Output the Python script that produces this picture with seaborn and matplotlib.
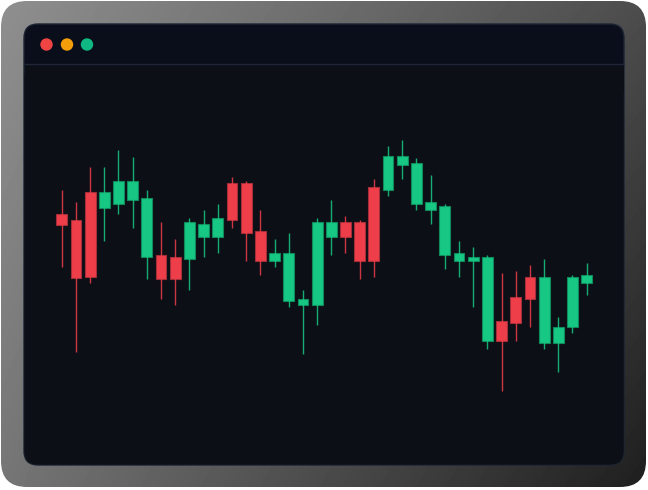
import numpy as np
import pandas as pd
import matplotlib.pyplot as plt
import seaborn as sns
from matplotlib.patches import FancyBboxPatch, Rectangle, Circle

# Candle data
opens = [116.5, 115.1, 122.0, 118.1, 119.1, 120.1, 105.8, 106.3, 105.8, 105.3,
         110.7, 110.7, 124.3, 124.3, 112.2, 104.8, 94.7, 93.7, 93.7, 110.7,
         114.6, 114.6, 123.3, 122.5, 128.7, 119.1, 117.5, 106.3, 104.8, 104.8,
         84.8, 89.8, 95.7, 100.8, 84.3, 84.3, 88.3, 99.3]
highs = [122.5, 119.5, 128.2, 128.2, 132.5, 130.7, 122.5, 114.6, 110.3, 115.6,
         117.5, 119.0, 125.7, 124.8, 117.5, 110.2, 111.7, 97.6, 115.6, 120.0,
         116.1, 115.1, 125.2, 133.5, 135.0, 130.6, 126.2, 119.0, 109.7, 108.2,
         106.3, 101.8, 102.3, 103.8, 105.3, 90.8, 101.3, 104.3]
lows = [103.3, 82.0, 99.3, 109.8, 116.6, 113.1, 100.3, 95.2, 93.7, 97.6,
        105.8, 106.8, 113.1, 104.8, 101.3, 103.3, 93.2, 81.4, 88.8, 106.3,
        106.8, 100.3, 100.8, 121.0, 125.2, 117.5, 114.1, 102.8, 100.8, 93.2,
        82.8, 72.3, 84.8, 88.3, 82.8, 77.0, 86.8, 96.2]
closes = [113.7, 100.4, 100.8, 122.0, 124.7, 124.7, 120.5, 100.3, 100.3, 114.6,
          114.1, 115.6, 115.1, 111.7, 104.8, 106.8, 106.8, 95.2, 114.6, 114.6,
          110.7, 104.8, 104.8, 131.1, 131.1, 129.2, 119.5, 118.5, 106.8, 105.8,
          105.8, 84.8, 89.3, 95.2, 100.8, 88.3, 100.8, 101.3]

UP = "#17c784"
DOWN = "#ee3e4a"
UP_EDGE = "#0f8a5c"
DOWN_EDGE = "#a52f39"

W, H = 648, 490

df = pd.DataFrame({"open": opens, "high": highs, "low": lows, "close": closes})
df["idx"] = np.arange(len(df))
df["up"] = df["close"] >= df["open"]

sns.set_theme(style="dark", rc={"axes.facecolor": "none", "figure.facecolor": "white"})

fig = plt.figure(figsize=(W / 100, H / 100), dpi=100)

# Device frame drawn in pixel coordinates
bg = fig.add_axes([0, 0, 1, 1])
bg.set_xlim(0, W)
bg.set_ylim(H, 0)
bg.axis("off")

outer = FancyBboxPatch((1, 1), 645, 486, boxstyle="round,pad=0,rounding_size=26",
                       facecolor="none", edgecolor="none")
bg.add_patch(outer)
gx = np.linspace(0, 1, 200)
gy = np.linspace(0, 1, 150)
XX, YY = np.meshgrid(gx, gy)
tl, tr, bl, br = 0.56, 0.30, 0.46, 0.12
grad = tl * (1 - XX) * (1 - YY) + tr * XX * (1 - YY) + bl * (1 - XX) * YY + br * XX * YY
im = bg.imshow(grad, cmap="gray", vmin=0, vmax=1, extent=(0, W, H, 0), aspect="auto",
               interpolation="bilinear")
im.set_clip_path(outer)

# Screen
bg.add_patch(FancyBboxPatch((24, 24), 600, 441, boxstyle="round,pad=0,rounding_size=14",
                            facecolor="#0a0e1a", edgecolor="#1c2434", linewidth=1))
bg.add_patch(FancyBboxPatch((24.5, 64), 599, 400.5, boxstyle="round,pad=0,rounding_size=13",
                            facecolor="#0d0f16", edgecolor="none"))
bg.add_patch(Rectangle((24.5, 64), 599, 30, facecolor="#0d0f16", edgecolor="none"))
bg.plot([24.5, 623.5], [63.8, 63.8], color="#1e2638", linewidth=1)

# Window buttons
for cx, c in zip([46.5, 67, 87], ["#ef4444", "#f59e0b", "#10b981"]):
    bg.add_patch(Circle((cx, 44.5), 6.2, facecolor=c, edgecolor="none"))

# Candlestick chart
ax = fig.add_axes([24 / W, 25 / H, 600 / W, 401 / H])
ax.set_facecolor("none")
ax.set_xlim(-2.66, 39.63)
ax.set_ylim(53.75, 154)

colors = np.where(df["up"], UP, DOWN)
edges = np.where(df["up"], UP_EDGE, DOWN_EDGE)
ax.vlines(df["idx"], df["low"], df["high"], colors=colors, linewidth=1.0, alpha=0.85)
bottoms = df[["open", "close"]].min(axis=1)
heights = (df["close"] - df["open"]).abs()
ax.bar(df["idx"], heights, bottom=bottoms, width=0.76, color=colors,
       edgecolor=edges, linewidth=0.8)

ax.grid(False)
ax.set_xticks([])
ax.set_yticks([])
sns.despine(ax=ax, left=True, bottom=True)

fig.savefig("out.png", dpi=100)
